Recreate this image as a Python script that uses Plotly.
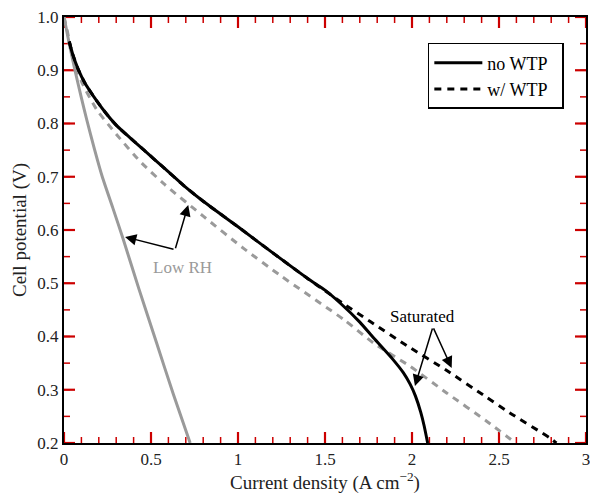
import plotly.graph_objects as go

# Polarization curves: current density (A cm^-2) vs cell potential (V)

# Low RH, no WTP (gray solid)
lowrh_nowtp_j = [0.0, 0.03, 0.063, 0.10, 0.13, 0.175, 0.22, 0.28, 0.34, 0.43, 0.53, 0.63, 0.725]
lowrh_nowtp_v = [1.0, 0.95, 0.9, 0.848, 0.808, 0.752, 0.70, 0.642, 0.583, 0.49, 0.39, 0.29, 0.2]

# Low RH, w/ WTP (gray dashed)
lowrh_wtp_j = [0.0, 0.015, 0.05, 0.10, 0.188, 0.303, 0.437, 0.58, 0.80, 1.03, 1.25, 1.607, 1.778, 1.989, 2.199, 2.429, 2.595]
lowrh_wtp_v = [1.0, 0.98, 0.925, 0.879, 0.826, 0.779, 0.729, 0.685, 0.626, 0.566, 0.513, 0.432, 0.388, 0.344, 0.294, 0.241, 0.2]

# Saturated, no WTP (black solid)
sat_nowtp_j = [0.03, 0.05, 0.08, 0.12, 0.17, 0.23, 0.30, 0.38, 0.46, 0.57, 0.69, 0.80, 1.0, 1.2, 1.4, 1.5,
               1.59, 1.7, 1.78, 1.89, 1.95, 1.99, 2.02, 2.05, 2.07, 2.09]
sat_nowtp_v = [0.954, 0.93, 0.903, 0.876, 0.851, 0.824, 0.797, 0.773, 0.750, 0.718, 0.683, 0.654, 0.606, 0.557, 0.509, 0.487,
               0.462, 0.427, 0.397, 0.357, 0.332, 0.31, 0.288, 0.258, 0.232, 0.2]

# Saturated, w/ WTP (black dashed)
sat_wtp_j = [0.03, 0.05, 0.08, 0.12, 0.17, 0.23, 0.30, 0.38, 0.46, 0.57, 0.69, 0.80, 1.0, 1.2, 1.4, 1.5,
             1.6, 1.76, 1.97, 2.2, 2.41, 2.56, 2.79, 2.83]
sat_wtp_v = [0.954, 0.93, 0.903, 0.876, 0.851, 0.824, 0.797, 0.773, 0.750, 0.718, 0.683, 0.654, 0.606, 0.557, 0.509, 0.486,
             0.463, 0.428, 0.383, 0.336, 0.29, 0.257, 0.21, 0.2]

# Axis ticks: range, major step and minor step
x_range = [0, 3]
x_major_step = 0.5
x_minor_step = 0.1
y_range = [0.2, 1.0]
y_major_step = 0.1
y_minor_step = 0.05

GRAY = "#9a9a9a"
FONT = "Liberation Serif, Times New Roman, serif"

W, H = 590, 495
MARGIN = dict(l=64, r=4, t=17, b=52)
PLOT_W = W - MARGIN["l"] - MARGIN["r"]
PLOT_H = H - MARGIN["t"] - MARGIN["b"]


def tick_positions(lo, hi, step):
    n = int(round((hi - lo) / step))
    return [lo + i * step for i in range(n + 1)]


fig = go.Figure(layout=dict(template="none"))

# Inward tick marks on all four sides, one trace per tick segment
dy_unit = (y_range[1] - y_range[0]) / PLOT_H
dx_unit = (x_range[1] - x_range[0]) / PLOT_W
for x_step, y_step, length, width in [(x_minor_step, y_minor_step, 6, 1.5),
                                      (x_major_step, y_major_step, 11, 2.2)]:
    for xv in tick_positions(x_range[0], x_range[1], x_step):
        for y_edge, sgn in [(y_range[0], 1), (y_range[1], -1)]:
            fig.add_trace(go.Scatter(x=[xv, xv], y=[y_edge, y_edge + sgn * length * dy_unit],
                                     mode="lines", line=dict(color="#cc0000", width=width),
                                     hoverinfo="skip", showlegend=False, cliponaxis=False))
    for yv in tick_positions(y_range[0], y_range[1], y_step):
        for x_edge, sgn in [(x_range[0], 1), (x_range[1], -1)]:
            fig.add_trace(go.Scatter(x=[x_edge, x_edge + sgn * length * dx_unit], y=[yv, yv],
                                     mode="lines", line=dict(color="#cc0000", width=width),
                                     hoverinfo="skip", showlegend=False, cliponaxis=False))

fig.add_trace(go.Scatter(x=lowrh_nowtp_j, y=lowrh_nowtp_v, mode="lines",
                         line=dict(color=GRAY, width=3, shape="spline", smoothing=0.6), showlegend=False))
fig.add_trace(go.Scatter(x=lowrh_wtp_j, y=lowrh_wtp_v, mode="lines",
                         line=dict(color=GRAY, width=3, dash="7px,6px", shape="spline", smoothing=0.6),
                         showlegend=False))
fig.add_trace(go.Scatter(x=sat_nowtp_j, y=sat_nowtp_v, mode="lines", name="no WTP\u00a0\u00a0",
                         line=dict(color="black", width=3, shape="spline", smoothing=0.6)))
fig.add_trace(go.Scatter(x=sat_wtp_j, y=sat_wtp_v, mode="lines", name="w/ WTP\u00a0\u00a0",
                         line=dict(color="black", width=3, dash="7px,6px", shape="spline", smoothing=0.6)))

# Callout arrows: (tail_x, tail_y, head_x, head_y)
arrows = [
    (0.638, 0.563, 0.351, 0.587),
    (0.638, 0.563, 0.714, 0.647),
    (2.12, 0.418, 2.017, 0.307),
    (2.12, 0.418, 2.228, 0.341),
]
for tx, ty, hx, hy in arrows:
    fig.add_annotation(x=hx, y=hy, ax=tx, ay=ty, xref="x", yref="y", axref="x", ayref="y",
                       text="", showarrow=True, arrowhead=2, arrowsize=1.5, arrowwidth=1.5,
                       arrowcolor="black", standoff=0, startstandoff=0)

fig.add_annotation(x=0.68, y=0.529, text="Low RH", showarrow=False,
                   font=dict(family=FONT, size=17, color=GRAY))
fig.add_annotation(x=2.063, y=0.438, text="Saturated", showarrow=False,
                   font=dict(family=FONT, size=17, color="black"))

axis_common = dict(
    showline=True, linecolor="black", linewidth=2, mirror=True,
    ticks="", showgrid=False, zeroline=False, ticklabeloverflow="allow",
    tickfont=dict(family=FONT, size=17, color="#222"),
)

fig.update_layout(
    xaxis=dict(range=x_range, tickmode="linear", tick0=x_range[0], dtick=x_major_step,
               title=dict(text="Current density (A cm<sup>\u22122</sup>)",
                          font=dict(family=FONT, size=19, color="#222"), standoff=0),
               **axis_common),
    yaxis=dict(range=y_range, tickmode="linear", tick0=y_range[0], dtick=y_major_step,
               tickformat=".1f",
               title=dict(text="Cell potential (V)",
                          font=dict(family=FONT, size=19, color="#222"), standoff=6),
               **axis_common),
    width=W, height=H,
    margin=dict(**MARGIN, autoexpand=False),
    plot_bgcolor="white", paper_bgcolor="white",
    legend=dict(x=0.697, y=0.939, xanchor="left", yanchor="top",
                bordercolor="black", borderwidth=1.5, bgcolor="white", itemwidth=48,
                font=dict(family=FONT, size=18, color="black")),
)

fig.write_html("out.html")
